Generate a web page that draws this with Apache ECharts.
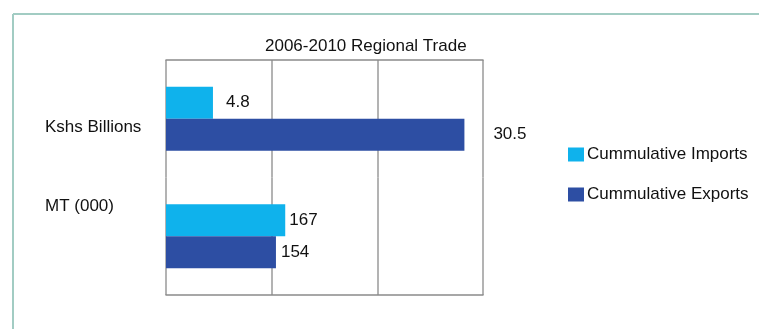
<!DOCTYPE html>
<html>
<head>
<meta charset="utf-8">
<script src="https://cdn.jsdelivr.net/npm/echarts@6/dist/echarts.min.js"></script>
<style>
  html, body { margin: 0; padding: 0; background: #ffffff; }
  #chart { width: 759px; height: 329px; }
</style>
</head>
<body>
<div id="chart"></div>
<script>
// Regional trade totals, 2006-2010
const units = ['Kshs Billions', 'MT (000)'];
const importValues = [4.8, 167];
const exportValues = [30.5, 154];
const seriesNames = ['Cummulative Imports', 'Cummulative Exports'];
const chartTitle = '2006-2010 Regional Trade';

// Each unit gets its own value scale (three equal grid intervals)
const scaleMax = [32.4, 444];

// Presentation settings
const FONT = 'Liberation Sans, Arial, sans-serif';
const IMPORT_COLOR = '#0fb2ec';
const EXPORT_COLOR = '#2d4ea3';
const GRID_COLOR = '#9a9a9a';
const FRAME_COLOR = '#8a8a8a';
const plotLeft = 166, plotRight = 276, plotTop = 60, bandHeight = 117.5;
const importLabelGap = [13, 4];
const exportLabelGap = [29, 5];
// unit labels sit a little off the band centres
const unitLabelAlign = [
  { verticalAlign: 'top', lineHeight: 18 },
  { verticalAlign: 'bottom', lineHeight: 59 }
];

const grids = [], xAxes = [], yAxes = [], series = [];
units.forEach((unit, i) => {
  grids.push({
    left: plotLeft, right: plotRight,
    top: plotTop + i * bandHeight, height: bandHeight,
    containLabel: false
  });
  xAxes.push({
    type: 'value', gridIndex: i, min: 0, max: scaleMax[i], interval: scaleMax[i] / 3,
    position: i === 0 ? 'top' : 'bottom',
    axisLine: { show: true, lineStyle: { color: FRAME_COLOR, width: 1.5 } },
    axisTick: { show: false },
    axisLabel: { show: false },
    splitLine: { show: true, lineStyle: { color: GRID_COLOR, width: 1.5 } }
  });
  yAxes.push({
    type: 'category', gridIndex: i, data: [unit],
    axisLine: { show: false }, axisTick: { show: false },
    axisLabel: Object.assign({
      align: 'left', margin: plotLeft - 45,
      fontFamily: FONT, fontSize: 17, color: '#111'
    }, unitLabelAlign[i])
  });
  series.push({
    name: seriesNames[0], type: 'bar', xAxisIndex: i, yAxisIndex: i,
    data: [importValues[i]], barWidth: 32, barGap: '0%',
    itemStyle: { color: IMPORT_COLOR },
    label: { show: true, position: 'right', distance: importLabelGap[i],
             fontFamily: FONT, fontSize: 17, color: '#111' }
  });
  series.push({
    name: seriesNames[1], type: 'bar', xAxisIndex: i, yAxisIndex: i,
    data: [exportValues[i]], barWidth: 32, barGap: '0%',
    itemStyle: { color: EXPORT_COLOR },
    label: { show: true, position: 'right', distance: exportLabelGap[i],
             fontFamily: FONT, fontSize: 17, color: '#111' }
  });
});

const chart = echarts.init(document.getElementById('chart'), null, { renderer: 'canvas' });
chart.setOption({
  animation: false,
  backgroundColor: '#ffffff',
  title: {
    text: chartTitle, left: 260, top: 33,
    textStyle: { fontFamily: FONT, fontSize: 17, fontWeight: 'normal', color: '#111' }
  },
  legend: {
    orient: 'vertical', left: 563, top: 141,
    data: seriesNames,
    icon: 'rect', itemWidth: 16, itemHeight: 14, itemGap: 23,
    textStyle: { fontFamily: FONT, fontSize: 17, color: '#111', padding: [0, 0, 0, -2] }
  },
  grid: grids,
  xAxis: xAxes,
  yAxis: yAxes,
  series: series,
  graphic: [
    // outer panel edge
    { type: 'line', shape: { x1: 13, y1: 14, x2: 759, y2: 14 },
      style: { stroke: '#a2ccc3', lineWidth: 2 }, silent: true },
    { type: 'line', shape: { x1: 13, y1: 14, x2: 13, y2: 329 },
      style: { stroke: '#a2ccc3', lineWidth: 2 }, silent: true }
  ]
});
</script>
</body>
</html>
